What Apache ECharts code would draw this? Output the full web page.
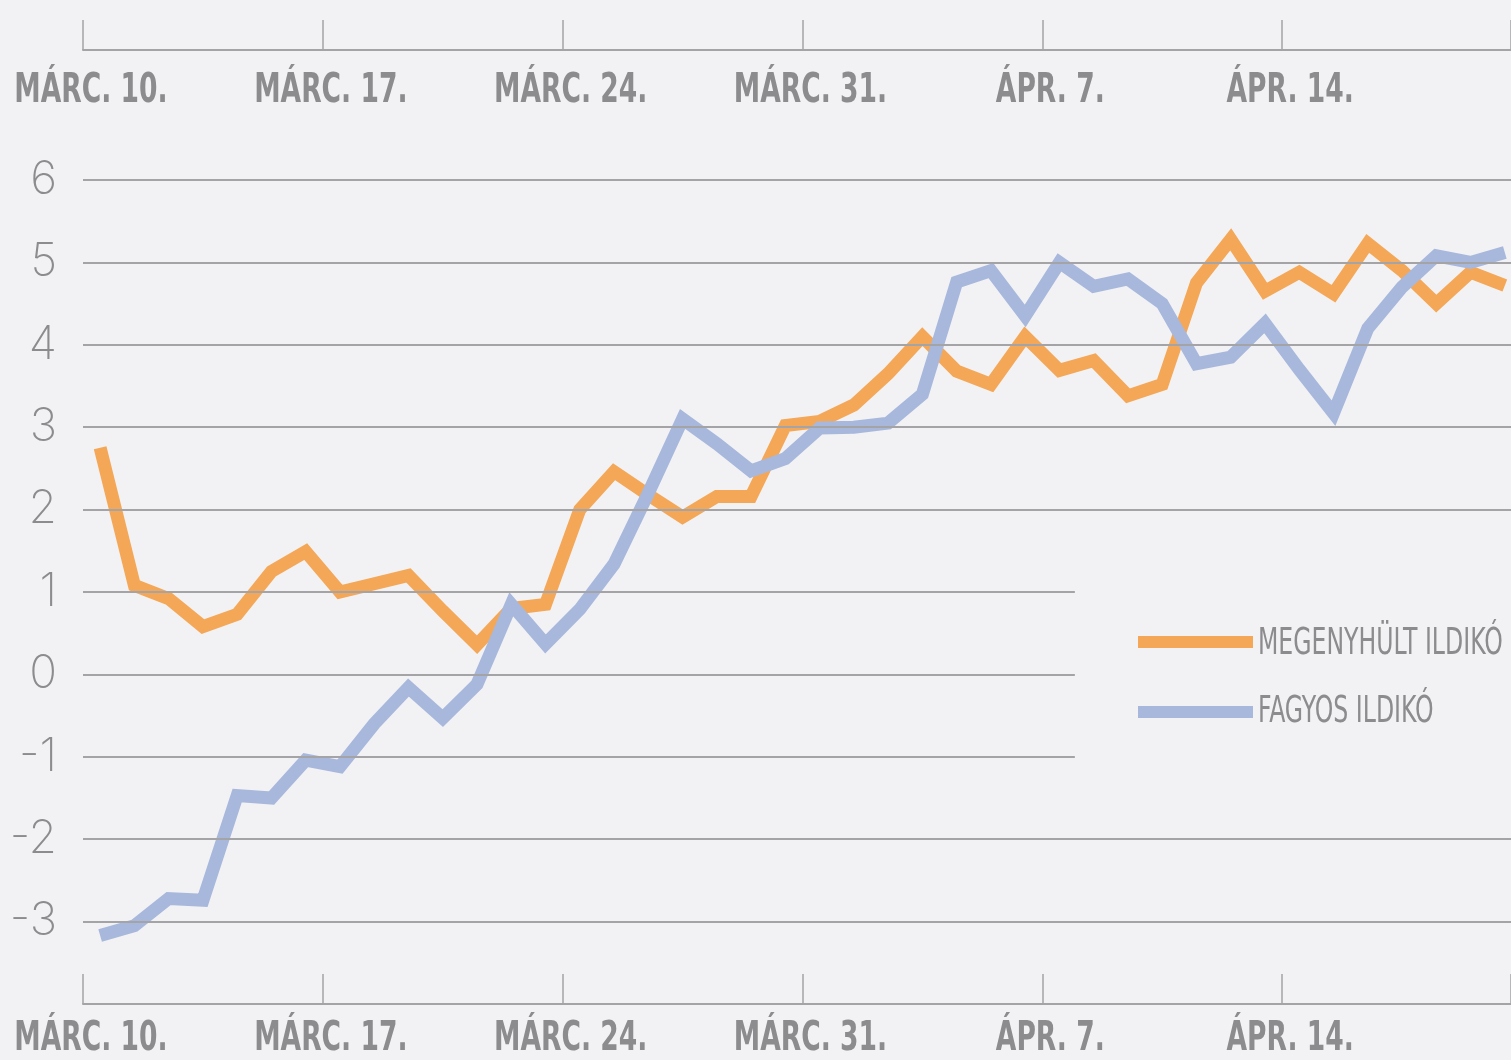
<!DOCTYPE html>
<html>
<head>
<meta charset="utf-8">
<script src="https://cdn.jsdelivr.net/npm/echarts@6/dist/echarts.min.js"></script>
<style>
  html, body { margin: 0; padding: 0; background: #f2f2f4; }
  #chart { width: 1511px; height: 1060px; }
</style>
</head>
<body>
<div id="chart"></div>
<script>
// Tick labels of the date axis (every 7 days from Márc. 10.)
const dateLabels = ['MÁRC. 10.', 'MÁRC. 17.', 'MÁRC. 24.', 'MÁRC. 31.', 'ÁPR. 7.', 'ÁPR. 14.'];
// Y tick values that carry a gridline
const yTicks = [-3, -2, -1, 0, 1, 2, 3, 4, 5, 6];
// Series names
const seriesNames = ['MEGENYHÜLT ILDIKÓ', 'FAGYOS ILDIKÓ'];
// Daily values, one per day starting Márc. 10.
const megenyhult = [2.75, 1.08, 0.92, 0.58, 0.73, 1.25, 1.49, 1.0, 1.1, 1.2,
  0.77, 0.36, 0.8, 0.85, 2.0, 2.46, 2.18, 1.91, 2.16, 2.16,
  3.02, 3.07, 3.27, 3.65, 4.1, 3.68, 3.52, 4.1, 3.69, 3.81,
  3.38, 3.52, 4.75, 5.28, 4.65, 4.88, 4.62, 5.23, 4.9, 4.5,
  4.88, 4.72];
const fagyos = [-3.17, -3.05, -2.72, -2.74, -1.47, -1.5, -1.04, -1.12, -0.6, -0.16,
  -0.53, -0.12, 0.85, 0.37, 0.79, 1.34, 2.2, 3.1, 2.8, 2.47,
  2.62, 2.99, 3.0, 3.05, 3.4, 4.76, 4.9, 4.35, 5.0, 4.71,
  4.8, 4.5, 3.77, 3.85, 4.26, 3.7, 3.17, 4.2, 4.7, 5.08,
  5.0, 5.12];

const NARROW = "'DejaVu Sans Condensed', 'Liberation Sans Narrow', 'DejaVu Sans', sans-serif";
const THIN = "Inter, Roboto, Lato, sans-serif";
const GRAY = '#8c8c8e';
const LINE_GRAY = '#a4a4a6';
const ORANGE = '#f4a757';
const BLUE = '#a8b8dc';

const toPairs = arr => arr.map((v, i) => [i + 0.5, v]);
const shortLines = [-1, 0, 1];
const X_MAX = 41.68;

const xAxisCommon = {
  type: 'value', min: 0, max: X_MAX, interval: 7,
  axisLine: { show: true, onZero: false, lineStyle: { color: LINE_GRAY, width: 2 } },
  axisTick: { show: true, inside: true, length: 30, lineStyle: { color: LINE_GRAY, width: 1.5 } },
  splitLine: { show: false },
  axisLabel: { show: false }
};

const gridLineData = yTicks.map(v => [
  { coord: [0, v] },
  { coord: [shortLines.includes(v) ? 28.95 : X_MAX, v] }
]);

const option = {
  backgroundColor: '#f2f2f4',
  animation: false,
  grid: [
    { left: 83, right: 0, top: 180, bottom: 56, outerBoundsMode: 'none', containLabel: false },
    { left: 83, right: 0, top: 20, height: 30, outerBoundsMode: 'none', containLabel: false }
  ],
  xAxis: [
    Object.assign({}, xAxisCommon, { gridIndex: 0, position: 'bottom' }),
    Object.assign({}, xAxisCommon, { gridIndex: 1, position: 'bottom' })
  ],
  yAxis: [
    {
      type: 'value', gridIndex: 0, min: -4, max: 6, interval: 1,
      axisLine: { show: false }, axisTick: { show: false }, splitLine: { show: false },
      axisLabel: {
        margin: 26, fontFamily: THIN, fontWeight: 200, fontSize: 46, color: GRAY,
        formatter: v => yTicks.includes(v) ? (v < 0 ? '-' + Math.abs(v) : String(v)) : ''
      }
    },
    { type: 'value', gridIndex: 1, min: 0, max: 1, show: false }
  ],
  legend: {
    orient: 'vertical', left: 1133, top: 631, itemWidth: 115, itemHeight: 12, itemGap: 58,
    icon: 'rect', selectedMode: false, formatter: () => '',
    textStyle: { fontSize: 12, lineHeight: 12, padding: 0 },
    data: seriesNames
  },
  series: [
    {
      type: 'line', name: 'grid', data: [], xAxisIndex: 0, yAxisIndex: 0, z: 1, silent: true,
      markLine: {
        silent: true, symbol: 'none', animation: false,
        label: { show: false },
        lineStyle: { color: LINE_GRAY, width: 2, type: 'solid' },
        data: gridLineData
      }
    },
    {
      type: 'line', name: seriesNames[0], data: toPairs(megenyhult), z: 3,
      showSymbol: false, symbol: 'none', color: ORANGE,
      lineStyle: { width: 13, color: ORANGE, join: 'miter', cap: 'butt' }
    },
    {
      type: 'line', name: seriesNames[1], data: toPairs(fagyos), z: 4,
      showSymbol: false, symbol: 'none', color: BLUE,
      lineStyle: { width: 13, color: BLUE, join: 'miter', cap: 'butt' }
    }
  ]
};

const chart = echarts.init(document.getElementById('chart'), null, { renderer: 'canvas' });
chart.setOption(option);

// Condensed date labels and legend names, placed from the axes' own scales
function textEl(text, x, y, opts) {
  return {
    type: 'text', x: x, y: y, scaleX: opts.scaleX, silent: true, z: 10,
    style: {
      text: text, fill: GRAY,
      font: opts.weight + ' ' + opts.size + 'px ' + NARROW,
      align: opts.align, verticalAlign: 'middle',
      textAlign: opts.align, textVerticalAlign: 'middle'
    }
  };
}
const els = [];
const yBottom = chart.convertToPixel({ yAxisIndex: 0 }, -4);
const yTop = chart.convertToPixel({ yAxisIndex: 1 }, 0);
dateLabels.forEach((t, k) => {
  const x = chart.convertToPixel({ xAxisIndex: 0 }, k * 7) + 8;
  const o = { scaleX: 0.72, size: 41, weight: 'bold', align: 'center' };
  els.push(textEl(t, x, yTop + 41, o));
  els.push(textEl(t, x, yBottom + 35, o));
});
const legendY = [644, 712];
seriesNames.forEach((n, i) => {
  els.push(textEl(n, 1258, legendY[i], { scaleX: 0.69, size: 38, weight: 'normal', align: 'left' }));
});
chart.setOption({ graphic: els });
</script>
</body>
</html>
